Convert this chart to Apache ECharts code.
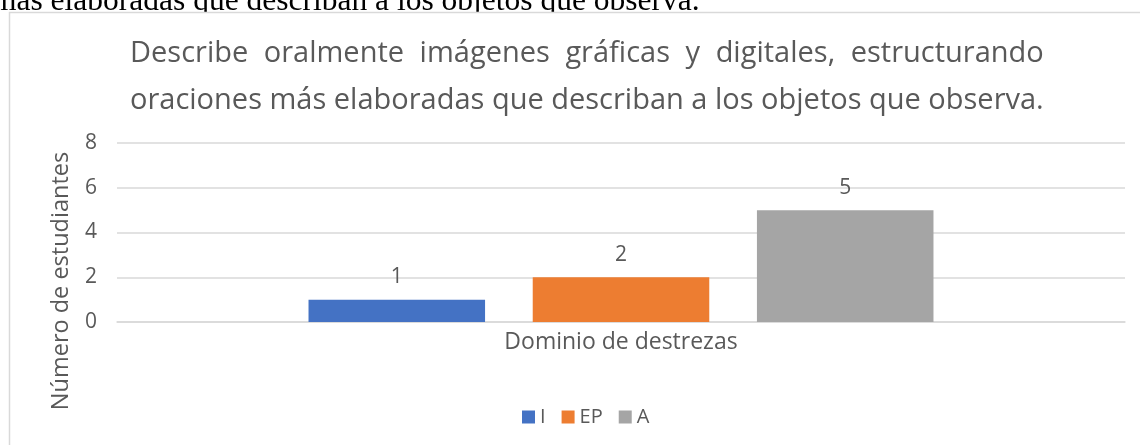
<!DOCTYPE html>
<html>
<head>
<meta charset="utf-8">
<script src="https://cdn.jsdelivr.net/npm/echarts@6/dist/echarts.min.js"></script>
<style>
  html, body { margin: 0; padding: 0; background: #fff; }
  #chart { width: 1140px; height: 445px; }
</style>
</head>
<body>
<div id="chart"></div>
<script>
// chart data
const categories = ["Dominio de destrezas"];
const seriesNames = ["I", "EP", "A"];
const valuesI = [1];
const valuesEP = [2];
const valuesA = [5];
const yTicks = { min: 0, max: 8, interval: 2 };
const titleLines = [
  "Describe oralmente imágenes gráficas y digitales, estructurando",
  "oraciones más elaboradas que describan a los objetos que observa.",
];
const pageText = "mas elaboradas que describan a los objetos que observa.";

const textColor = "#595959";
const font = "'Open Sans', 'Noto Sans', sans-serif";
const titleFont = "29px " + font;

// justify the first title line to the width of the second, like the original
const ctx = document.createElement("canvas").getContext("2d");
ctx.font = titleFont;
const titleLeft = 130;
const lineWidth = ctx.measureText(titleLines[1]).width;
const words = titleLines[0].split(" ");
const wordWidths = words.map(function (w) { return ctx.measureText(w).width; });
const space = (lineWidth - wordWidths.reduce(function (a, b) { return a + b; }, 0)) / (words.length - 1);
const titleGraphics = [];
let xPos = titleLeft;
words.forEach(function (w, i) {
  titleGraphics.push({
    type: "text", x: xPos, y: 54,
    style: { text: w, font: titleFont, fill: textColor, textVerticalAlign: "middle" },
  });
  xPos += wordWidths[i] + space;
});
titleGraphics.push({
  type: "text", x: titleLeft, y: 101,
  style: { text: titleLines[1], font: titleFont, fill: textColor, textVerticalAlign: "middle" },
});

const chart = echarts.init(document.getElementById("chart"));
chart.setOption({
  animation: false,
  color: ["#4472C4", "#ED7D31", "#A5A5A5"],
  legend: {
    data: seriesNames,
    top: 402,
    left: 517,
    itemWidth: 13,
    itemHeight: 13,
    itemGap: 16,
    icon: "rect",
    textStyle: { color: textColor, fontFamily: font, fontSize: 20 },
  },
  grid: {
    left: 117,
    right: 15,
    top: 143,
    height: 179,
  },
  xAxis: {
    type: "category",
    data: categories,
    axisLine: { lineStyle: { color: "#d9d9d9", width: 1.5 } },
    axisTick: { show: false },
    axisLabel: { color: textColor, fontFamily: font, fontSize: 23, margin: 9 },
  },
  yAxis: {
    type: "value",
    min: yTicks.min,
    max: yTicks.max,
    interval: yTicks.interval,
    axisLine: { show: false },
    axisTick: { show: false },
    splitLine: { lineStyle: { color: "#d9d9d9", width: 1.5 } },
    axisLabel: { color: textColor, fontFamily: font, fontSize: 21, margin: 20 },
  },
  graphic: [
    {
      type: "text",
      x: -8,
      y: 18,
      z: 0,
      style: {
        text: pageText,
        font: "31.5px 'Liberation Serif', serif",
        fill: "#000",
        textVerticalAlign: "bottom",
      },
    },
    {
      type: "rect",
      z: 1,
      shape: { x: 10.5, y: 13, width: 1140, height: 10 },
      style: { fill: "#fff" },
      silent: true,
    },
    {
      type: "rect",
      z: 1,
      shape: { x: 9.5, y: 12.5, width: 1200, height: 500 },
      style: { fill: "none", stroke: "#d9d9d9", lineWidth: 1.5 },
      silent: true,
    },
    {
      type: "text",
      x: 61,
      y: 281,
      rotation: Math.PI / 2,
      style: {
        text: "Número de estudiantes",
        font: "23.5px " + font,
        fill: textColor,
        textAlign: "center",
        textVerticalAlign: "middle",
      },
    },
  ].concat(titleGraphics),
  series: [
    { name: "I", type: "bar", data: valuesI },
    { name: "EP", type: "bar", data: valuesEP },
    { name: "A", type: "bar", data: valuesA },
  ].map(function (s) {
    return Object.assign(s, {
      barGap: "27%",
      barCategoryGap: "38%",
      label: {
        show: true,
        position: "top",
        distance: 12,
        color: textColor,
        fontFamily: font,
        fontSize: 21,
      },
    });
  }),
});
</script>
</body>
</html>
